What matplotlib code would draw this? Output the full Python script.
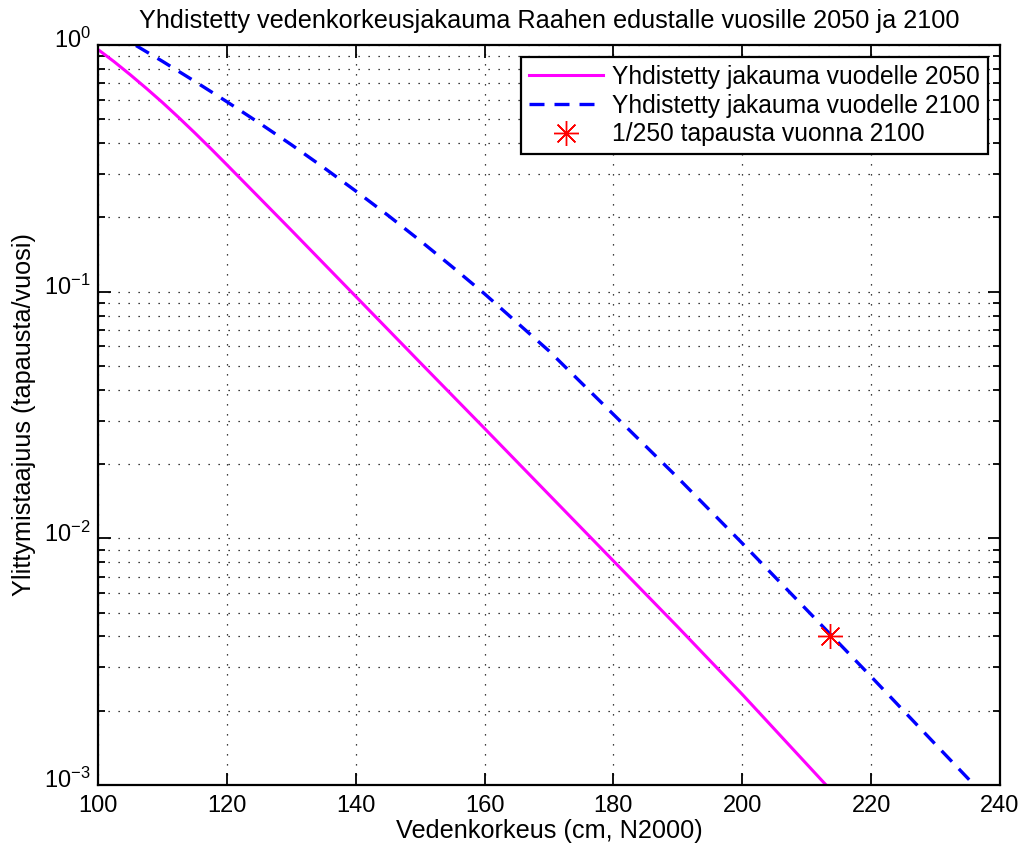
import matplotlib
matplotlib.use("Agg")
import matplotlib.pyplot as plt
import matplotlib.transforms as mtransforms
from matplotlib.ticker import LogLocator, NullFormatter

plt.rcParams['font.family'] = ['Liberation Sans', 'DejaVu Sans']
plt.rcParams['mathtext.fontset'] = 'custom'
plt.rcParams['mathtext.rm'] = 'Liberation Sans'

# combined distribution for 2050
x_2050 = [100, 102.5, 105, 107.5, 110, 112.5, 115, 117.5, 120, 125, 130, 140, 150, 160,
          170, 180, 190, 200, 213]
y_2050 = [0.959, 0.856, 0.758, 0.6675, 0.585, 0.509, 0.441, 0.3805, 0.327, 0.241, 0.1775,
          0.0957, 0.0516, 0.0279, 0.01503, 0.0081, 0.00437, 0.00233, 0.001]

# combined distribution for 2100
x_2100 = [105.9, 110, 115, 120, 125, 130, 135, 140, 145, 150, 155, 160, 170, 180, 190,
          200, 210, 220, 230, 236]
y_2100 = [0.995, 0.859, 0.713, 0.589, 0.4835, 0.3945, 0.319, 0.256, 0.204, 0.161, 0.126,
          0.098, 0.0575, 0.0318, 0.0176, 0.00955, 0.00513, 0.00275, 0.00146, 0.001]

# 1/250 event in 2100
x_event = [213.6]
y_event = [1 / 250]

fig = plt.figure(figsize=(10.27, 8.49), dpi=100)
ax = fig.add_axes([0.0954, 0.0754, 0.8783, 0.8716])

ax.plot(x_2050, y_2050, color='#ff00ff', lw=2.2, label='Yhdistetty jakauma vuodelle 2050')
ax.plot(x_2100, y_2100, color='#0000ff', lw=2.4, ls=(0, (4.5, 3)),
        label='Yhdistetty jakauma vuodelle 2100')
ax.plot(x_event, y_event, ls='none', marker=(8, 2, 0), ms=18, mew=1.0, color='#ff0000',
        label='1/250 tapausta vuonna 2100')

ax.set_yscale('log')
ax.set_xlim(100, 240)
ax.set_ylim(1e-3, 1)
ax.set_xticks(range(100, 241, 20))
ax.yaxis.set_major_locator(LogLocator(base=10, numticks=10))
ax.yaxis.set_minor_locator(LogLocator(base=10, subs=range(2, 10), numticks=10))
ax.yaxis.set_minor_formatter(NullFormatter())

ax.grid(True, which='major', axis='both', color='black', ls=(0, (1, 7)), lw=0.9)
ax.grid(True, which='minor', axis='y', color='black', ls=(0, (1, 7)), lw=0.9)

ax.tick_params(which='both', direction='in', top=True, right=True, labelsize=17,
               width=1.3, color='black')
ax.tick_params(which='major', length=9)
ax.tick_params(axis='x', which='major', pad=7)
ax.tick_params(axis='y', which='major', pad=5)
ax.tick_params(which='minor', length=5)
for s in ax.spines.values():
    s.set_linewidth(1.6)

# lift the 10^n labels so the base sits on the tick, as in the original
shift = mtransforms.ScaledTranslation(0, 5 / 72, fig.dpi_scale_trans)
for lab in ax.get_yticklabels():
    lab.set_transform(lab.get_transform() + shift)

ax.set_title('Yhdistetty vedenkorkeusjakauma Raahen edustalle vuosille 2050 ja 2100',
             fontsize=18.2, pad=12)
ax.set_xlabel('Vedenkorkeus (cm, N2000)', fontsize=18.2, labelpad=2)
ax.set_ylabel('Ylittymistaajuus (tapausta/vuosi)', fontsize=18.2, labelpad=6)

leg = ax.legend(loc='upper right', fontsize=17.7, frameon=True, fancybox=False,
                edgecolor='black', framealpha=1, borderaxespad=0.5, handlelength=3.0,
                handletextpad=0.4, labelspacing=0.2, borderpad=0.3)
leg.get_frame().set_linewidth(1.6)

fig.savefig('out.png', dpi=100)
